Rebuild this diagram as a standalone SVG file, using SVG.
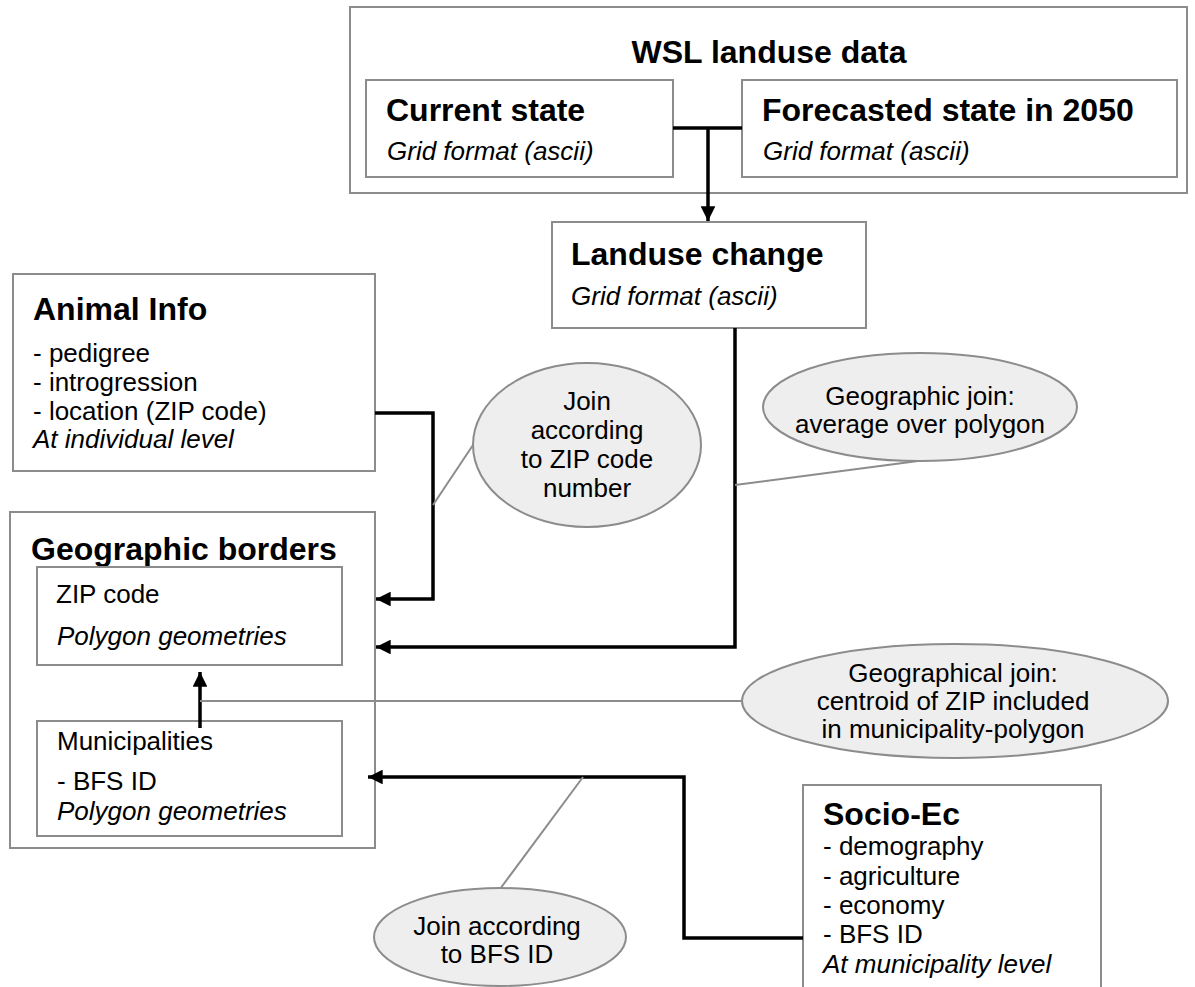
<svg xmlns="http://www.w3.org/2000/svg" width="1195" height="987" viewBox="0 0 1195 987">
<defs>
<style>
.box{fill:#ffffff;stroke:#8c8c8c;stroke-width:2}
.ell{fill:#eeeeee;stroke:#8c8c8c;stroke-width:2}
.t{font-family:"Liberation Sans",Arial,sans-serif;fill:#000}
.h{font-size:32px;font-weight:bold}
.r{font-size:26px}
.i{font-size:26px;font-style:italic}
.c{text-anchor:middle}
.con{fill:none;stroke:#000;stroke-width:3.5}
.thin{fill:none;stroke:#8c8c8c;stroke-width:2}
</style>
<marker id="arr" viewBox="0 0 10 10" refX="10" refY="5" markerWidth="5" markerHeight="4.2" orient="auto" markerUnits="strokeWidth">
<path d="M0,0 L10,5 L0,10 z" fill="#000"/>
</marker>
</defs>
<rect width="1195" height="987" fill="#ffffff"/>

<g id="wsl">
<rect class="box" x="350" y="7" width="837" height="186"/>
<text class="t h c" x="769" y="63">WSL landuse data</text>
</g>
<g id="current">
<rect class="box" x="366" y="80" width="307" height="97"/>
<text class="t h" x="386" y="121">Current state</text>
<text class="t i" x="387" y="160">Grid format (ascii)</text>
</g>
<g id="forecast">
<rect class="box" x="742" y="80" width="435" height="97"/>
<text class="t h" x="762" y="121">Forecasted state in 2050</text>
<text class="t i" x="763" y="160">Grid format (ascii)</text>
</g>
<g id="landuse">
<rect class="box" x="552" y="222" width="314" height="106"/>
<text class="t h" x="571" y="265">Landuse change</text>
<text class="t i" x="571" y="305">Grid format (ascii)</text>
</g>
<g id="animal">
<rect class="box" x="13" y="274" width="362" height="197"/>
<text class="t h" x="33" y="320">Animal Info</text>
<text class="t r" x="33" y="362">- pedigree</text>
<text class="t r" x="33" y="391">- introgression</text>
<text class="t r" x="33" y="420">- location (ZIP code)</text>
<text class="t i" x="33" y="448">At individual level</text>
</g>
<g id="geoborders">
<rect class="box" x="10" y="512" width="365" height="336"/>
<text class="t h" x="31" y="560">Geographic borders</text>
</g>
<g id="zip">
<rect class="box" x="37" y="567" width="305" height="98"/>
<text class="t r" x="56" y="603">ZIP code</text>
<text class="t i" x="57" y="645">Polygon geometries</text>
</g>
<g id="municipalities">
<rect class="box" x="37" y="721" width="305" height="115"/>
<text class="t r" x="57" y="750">Municipalities</text>
<text class="t r" x="57" y="790">- BFS ID</text>
<text class="t i" x="57" y="820">Polygon geometries</text>
</g>
<g id="socio">
<rect class="box" x="803" y="785" width="298" height="215"/>
<text class="t h" x="823" y="825">Socio-Ec</text>
<text class="t r" x="823" y="855">- demography</text>
<text class="t r" x="823" y="885">- agriculture</text>
<text class="t r" x="823" y="914">- economy</text>
<text class="t r" x="823" y="943">- BFS ID</text>
<text class="t i" x="823" y="973">At municipality level</text>
</g>

<g id="connectors">
<path class="con" d="M673,128 H742"/>
<path class="con" d="M708,128 V221" marker-end="url(#arr)"/>
<path class="con" d="M375,413 H433 V599 H376" marker-end="url(#arr)"/>
<path class="con" d="M735,328 V647 H376" marker-end="url(#arr)"/>
<path class="con" d="M200,728 V672" marker-end="url(#arr)"/>
<path class="con" d="M803,938 H684 V777 H368" marker-end="url(#arr)"/>
<path class="thin" d="M433,505 L473,445"/>
<path class="thin" d="M735,485 L918,461"/>
<path class="thin" d="M200,701 H742"/>
<path class="thin" d="M583,777 L500,889"/>
</g>

<g id="join-zip">
<ellipse class="ell" cx="587" cy="445" rx="114" ry="82"/>
<text class="t r c" x="587" y="410">Join</text>
<text class="t r c" x="587" y="439">according</text>
<text class="t r c" x="587" y="468">to ZIP code</text>
<text class="t r c" x="587" y="497">number</text>
</g>
<g id="join-geo">
<ellipse class="ell" cx="920" cy="407" rx="157" ry="54"/>
<text class="t r c" x="920" y="405">Geographic join:</text>
<text class="t r c" x="920" y="433">average over polygon</text>
</g>
<g id="join-geo2">
<ellipse class="ell" cx="955" cy="701" rx="213" ry="57"/>
<text class="t r c" x="953" y="682">Geographical join:</text>
<text class="t r c" x="953" y="710">centroid of ZIP included</text>
<text class="t r c" x="953" y="738">in municipality-polygon</text>
</g>
<g id="join-bfs">
<ellipse class="ell" cx="500" cy="937" rx="126" ry="49"/>
<text class="t r c" x="497" y="935">Join according</text>
<text class="t r c" x="497" y="963">to BFS ID</text>
</g>
</svg>
